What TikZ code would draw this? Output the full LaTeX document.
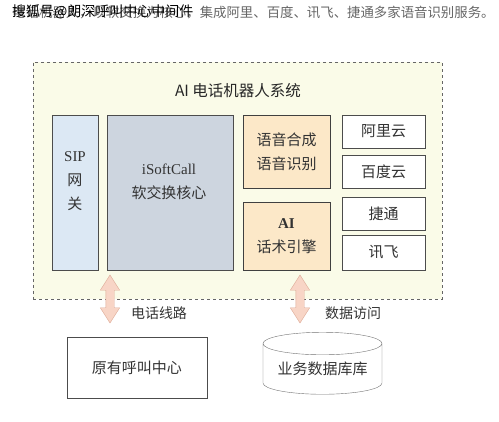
\documentclass[tikz,border=0pt]{standalone}
\usepackage{fontspec}
\setmainfont{Liberation Serif}
\newfontfamily\cjk{Noto Sans CJK SC}
\usetikzlibrary{shapes.geometric,shapes.arrows}

\definecolor{sysfill}{HTML}{FAFBE8}
\definecolor{sipfill}{HTML}{DCE8F4}
\definecolor{corefill}{HTML}{CDD5DF}
\definecolor{asrfill}{HTML}{FCE8C8}
\definecolor{linkfill}{HTML}{F8D5C6}
\definecolor{linkdraw}{HTML}{DDAA96}
\definecolor{ink}{HTML}{333333}

\begin{document}
\begin{tikzpicture}[x=1pt, y=-1pt]
        \tikzstyle{words}=[inner sep=0pt,align=center,text=ink,font=\fontsize{15}{24}\selectfont\cjk]
        \tikzstyle{box}=[words,draw=black!70]
        \tikzstyle{cloud}=[box,fill=white,minimum width=83pt,minimum height=33pt]
        \tikzstyle{engine}=[box,fill=asrfill,minimum width=87pt,draw=black!75]
        \tikzstyle{link}=[double arrow,rotate=90,fill=linkfill,draw=linkdraw,inner xsep=0pt,inner ysep=4pt,
            minimum width=19pt,minimum height=48pt,double arrow head extend=5.5pt,double arrow tip angle=65]
        \tikzstyle{label}=[text=ink,font=\fontsize{14}{14}\selectfont\cjk]

        \useasboundingbox (0,0) rectangle (499,422);

        % top caption
        \node[anchor=west,inner sep=0pt,text=black!60,font=\fontsize{13.4}{14}\selectfont\cjk] (T_1) at (12,13)
            {电话机器人，以软交换为核心，集成阿里、百度、讯飞、捷通多家语音识别服务。};
        \node[anchor=west,inner sep=0pt,text=black,font=\fontsize{14}{14}\selectfont\cjk] (T_2) at (12,12) {搜狐号@朗深呼叫中心中间件};

        % system frame
        \node[draw=black!60,dashed,fill=sysfill,minimum width=409pt,minimum height=237pt] (S) at (237.5,180.5) {};
        \node[text=black!85,font=\fontsize{15.5}{16}\selectfont\cjk] (S_t) at (238,91) {AI 电话机器人系统};

        \node[box,fill=sipfill,minimum width=46pt,minimum height=155pt] (B_1) at (75,192.5) {};
        \node[words] (B_1t) at (75,181) {\textrm{SIP}\\网\\关};
        \node[box,fill=corefill,minimum width=126pt,minimum height=155pt] (B_2) at (170,192.5) {};
        \node[words] (B_2t) at (169,182) {\textrm{iSoftCall}\\软交换核心};
        \node[engine,minimum height=73pt] (B_3) at (286.5,151.5) {语音合成\\语音识别};
        \node[engine,minimum height=68pt] (B_4) at (286.5,236) {\textrm{\textbf{AI}}\\话术引擎};

        \node[cloud] (C_1) at (383.5,131.5) {阿里云};
        \node[cloud] (C_2) at (383.5,171.5) {百度云};
        \node[cloud] (C_3) at (383.5,213.5) {捷通};
        \node[cloud,minimum height=35pt] (C_4) at (383.5,252.5) {讯飞};

        % outside
        \node[box,fill=white,minimum width=140pt,minimum height=61pt] (E_1) at (137,367.5) {原有呼叫中心};
        \node[box,cylinder,shape border rotate=90,aspect=0.25,fill=white,draw=black!55,
            minimum width=119pt,minimum height=62pt] (E_2) at (322.5,369) {\raisebox{-8pt}{业务数据库库}};

        \node[link] (L_1) at (110,299) {};
        \node[link] (L_2) at (300,299) {};
        \node[label] (L_1t) at (159,313) {电话线路};
        \node[label] (L_2t) at (353,313) {数据访问};
\end{tikzpicture}
\end{document}
